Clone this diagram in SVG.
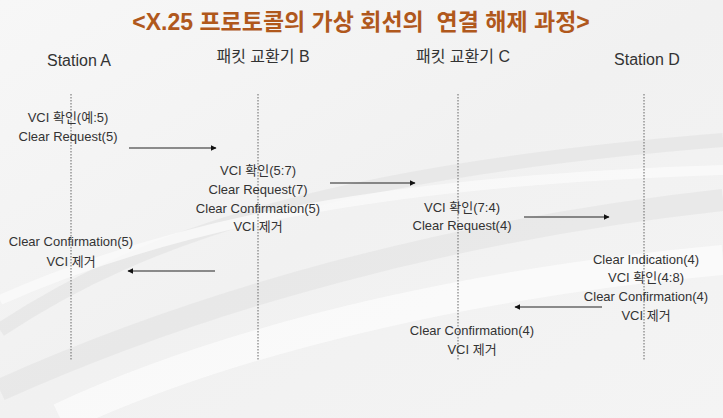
<svg xmlns="http://www.w3.org/2000/svg" width="723" height="418" viewBox="0 0 723 418">
<defs>
<linearGradient id="bg" x1="0" y1="0" x2="1" y2="1">
<stop offset="0" stop-color="#f7f7f7"/>
<stop offset="0.5" stop-color="#f1f1f1"/>
<stop offset="1" stop-color="#f4f4f4"/>
</linearGradient>
<marker id="ah" viewBox="0 0 10 10" refX="9" refY="5" markerWidth="6" markerHeight="6" markerUnits="userSpaceOnUse" orient="auto">
<path d="M0,0 L10,5 L0,10 z" fill="#111"/>
</marker>
<style>
.t{font-family:"Liberation Sans","Noto Sans CJK KR",sans-serif;fill:#333;font-size:13px;text-anchor:middle}
.h{font-family:"Liberation Sans","Noto Sans CJK KR",sans-serif;fill:#333;font-size:16px;text-anchor:middle}
.ttl{font-family:"Liberation Sans","Noto Sans CJK KR",sans-serif;fill:#b0581c;font-size:23px;font-weight:bold;text-anchor:middle}
.life{stroke:#666;stroke-width:1;stroke-dasharray:1.5 1.5;fill:none}
.msg{stroke:#222;stroke-width:1.2;fill:none;marker-end:url(#ah)}
</style>
</defs>
<rect width="723" height="418" fill="url(#bg)"/>
<g id="background" fill="none">
<path d="M0,330 C150,230 350,170 723,140" stroke="#e4e4e4" stroke-width="14" opacity="0.7"/>
<path d="M0,390 C200,300 450,230 723,200" stroke="#e2e2e2" stroke-width="22" opacity="0.6"/>
<path d="M60,418 C250,330 500,280 723,260" stroke="#fbfbfb" stroke-width="30" opacity="0.8"/>
<path d="M0,300 C180,220 400,180 723,170" stroke="#fafafa" stroke-width="10" opacity="0.8"/>
</g>
<text class="ttl" x="361" y="30">&lt;X.25 프로토콜의 가상 회선의&#160;&#160;연결 해제 과정&gt;</text>
<g id="stationA">
<text class="h" x="79" y="66">Station A</text>
<line class="life" x1="71" y1="94" x2="71" y2="360"/>
</g>
<g id="switchB">
<text class="h" x="263" y="62">패킷 교환기 B</text>
<line class="life" x1="258" y1="94" x2="258" y2="360"/>
</g>
<g id="switchC">
<text class="h" x="463" y="62">패킷 교환기 C</text>
<line class="life" x1="458" y1="94" x2="458" y2="360"/>
</g>
<g id="stationD">
<text class="h" x="647" y="65">Station D</text>
<line class="life" x1="644" y1="94" x2="644" y2="360"/>
</g>
<g id="labels">
<text class="t" x="68" y="122">VCI 확인(예:5)</text>
<text class="t" x="68" y="141">Clear Request(5)</text>
<text class="t" x="258" y="175">VCI 확인(5:7)</text>
<text class="t" x="258" y="194">Clear Request(7)</text>
<text class="t" x="258" y="213">Clear Confirmation(5)</text>
<text class="t" x="258" y="231">VCI 제거</text>
<text class="t" x="462" y="212">VCI 확인(7:4)</text>
<text class="t" x="462" y="230">Clear Request(4)</text>
<text class="t" x="71" y="246">Clear Confirmation(5)</text>
<text class="t" x="71" y="266">VCI 제거</text>
<text class="t" x="646" y="264">Clear Indication(4)</text>
<text class="t" x="646" y="282">VCI 확인(4:8)</text>
<text class="t" x="646" y="301">Clear Confirmation(4)</text>
<text class="t" x="646" y="320">VCI 제거</text>
<text class="t" x="472" y="335">Clear Confirmation(4)</text>
<text class="t" x="472" y="354">VCI 제거</text>
</g>
<g id="connectors">
<line class="msg" x1="129" y1="148" x2="216" y2="148"/>
<line class="msg" x1="330" y1="183" x2="415" y2="183"/>
<line class="msg" x1="524" y1="217" x2="609" y2="217"/>
<line class="msg" x1="215" y1="271" x2="128" y2="271"/>
<line class="msg" x1="602" y1="307" x2="515" y2="307"/>
</g>
</svg>
